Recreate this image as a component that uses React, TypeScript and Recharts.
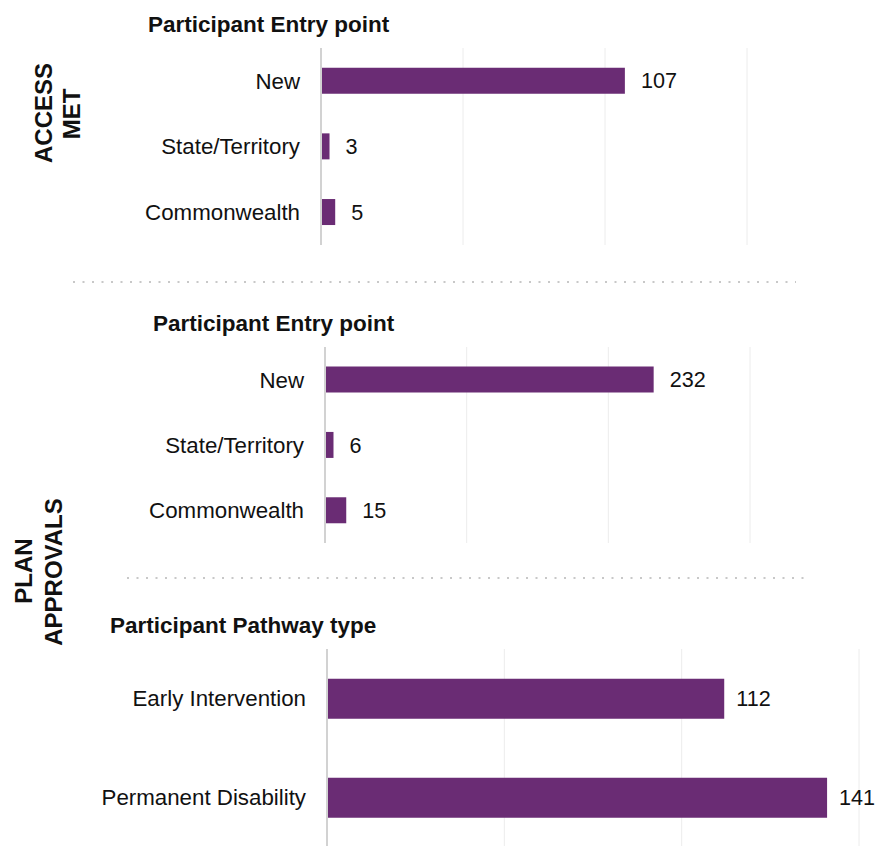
import React from 'react'
import { BarChart, Bar, XAxis, YAxis, CartesianGrid, LabelList } from 'recharts'

const entryCategories = ['New', 'State/Territory', 'Commonwealth']
const accessMetValues = [107, 3, 5]
const planEntryValues = [232, 6, 15]
const pathwayCategories = ['Early Intervention', 'Permanent Disability']
const pathwayValues = [112, 141]

const accessTicks = [0, 50, 100, 150]
const planEntryTicks = [0, 100, 200, 300]
const pathwayTicks = [0, 50, 100, 150]

const BAR_COLOR = '#6a2c74'
const FONT = '"Liberation Sans", Arial, sans-serif'

interface PanelProps {
  categories: string[]
  values: number[]
  ticks: number[]
  top: number
  height: number
  margin: { top: number; right: number; bottom: number; left: number }
  axisWidth: number
  labelOffset?: number
}

function Panel({ categories, values, ticks, top, height, margin, axisWidth, labelOffset = 16 }: PanelProps) {
  const data = categories.map((name, i) => ({ name, value: values[i] }))
  return (
    <div style={{ position: 'absolute', left: 0, top, width: 876, height }}>
      <BarChart
        width={876}
        height={height}
        data={data}
        layout="vertical"
        margin={margin}
        barCategoryGap="30%"
      >
        <CartesianGrid horizontal={false} stroke="#ececec" strokeWidth={1} />
        <XAxis
          type="number"
          domain={[0, ticks[ticks.length - 1]]}
          ticks={ticks}
          hide
        />
        <YAxis
          type="category"
          dataKey="name"
          width={axisWidth}
          axisLine={{ stroke: '#d2d2d2', strokeWidth: 2 }}
          tickLine={false}
          tickSize={0}
          tickMargin={21}
          tick={{ fill: '#111', fontSize: 22.3, fontFamily: FONT }}
        />
        <Bar dataKey="value" fill={BAR_COLOR} isAnimationActive={false}>
          <LabelList
            dataKey="value"
            position="right"
            offset={labelOffset}
            fill="#111"
            fontSize={21.6}
            fontFamily={FONT}
          />
        </Bar>
      </BarChart>
    </div>
  )
}

export default function App() {
  return (
    <div style={{
      position: 'absolute',
      left: 0,
      top: 0,
      width: 876,
      height: 846,
      overflow: 'hidden',
      background: '#fff',
      fontFamily: FONT
    }}>
      <Panel
        categories={entryCategories}
        values={accessMetValues}
        ticks={accessTicks}
        top={0}
        height={260}
        margin={{ top: 48, right: 129, bottom: 15, left: 0 }}
        axisWidth={321}
      />
      <Panel
        categories={entryCategories}
        values={planEntryValues}
        ticks={planEntryTicks}
        top={300}
        height={260}
        margin={{ top: 47, right: 126, bottom: 17, left: 0 }}
        axisWidth={325}
      />
      <Panel
        categories={pathwayCategories}
        values={pathwayValues}
        ticks={pathwayTicks}
        top={600}
        height={250}
        margin={{ top: 49, right: 17, bottom: 3, left: 0 }}
        axisWidth={327}
        labelOffset={12}
      />

      {/* titles, side labels and dotted separators */}
      <svg
        width={876}
        height={846}
        style={{ position: 'absolute', left: 0, top: 0, pointerEvents: 'none' }}
      >
        <g fontFamily={FONT} fontWeight="bold" fill="#111" fontSize={22.5}>
          <text x={148} y={32}>Participant Entry point</text>
          <text x={153} y={331}>Participant Entry point</text>
          <text x={110} y={633}>Participant Pathway type</text>
        </g>
        <g fontFamily={FONT} fontWeight="bold" fill="#111" fontSize={24} textAnchor="middle">
          <text x={52} y={113} transform="rotate(-90 52 113)">ACCESS</text>
          <text x={80} y={114} transform="rotate(-90 80 114)">MET</text>
          <text x={32} y={571} transform="rotate(-90 32 571)">PLAN</text>
          <text x={62} y={572} transform="rotate(-90 62 572)">APPROVALS</text>
        </g>
        <line x1={73} y1={282} x2={796} y2={282} stroke="#c8c8c8" strokeWidth={2} strokeDasharray="2 7.5" />
        <line x1={127} y1={578} x2={810} y2={578} stroke="#c8c8c8" strokeWidth={2} strokeDasharray="2 7.5" />
      </svg>
    </div>
  )
}
